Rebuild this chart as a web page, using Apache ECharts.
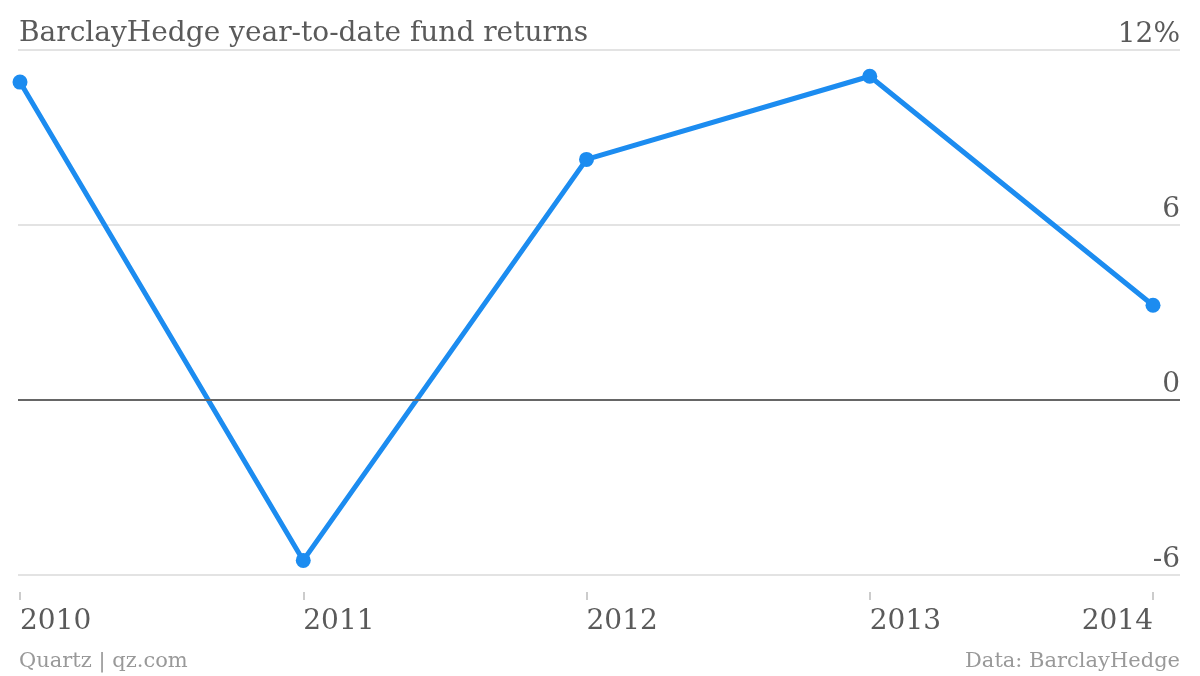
<!DOCTYPE html>
<html><head><meta charset="utf-8">
<script src="https://cdn.jsdelivr.net/npm/echarts@6/dist/echarts.min.js"></script>
<style>html,body{margin:0;padding:0;background:#fff}#c{width:1200px;height:676px}</style>
</head><body><div id="c"></div>
<script>
const categories = ['2010', '2011', '2012', '2013', '2014'];
const returnsPct = [10.9, -5.5, 8.25, 11.1, 3.25];
const yTicks = [-6, 0, 6, 12];
const titleText = 'BarclayHedge year-to-date fund returns';
const sourceLeft = 'Quartz | qz.com';
const sourceRight = 'Data: BarclayHedge';

const FONT = '"DejaVu Serif", serif';
const chart = echarts.init(document.getElementById('c'), null, {renderer: 'canvas'});
chart.setOption({
  animation: false,
  backgroundColor: '#fff',
  title: [
    {text: titleText, left: 19, top: 20, padding: 0, textStyle: {fontFamily: FONT, fontSize: 28, fontWeight: 'normal', color: '#5a5a5a'}},
    {text: sourceLeft, left: 19, top: 651, padding: 0, textStyle: {fontFamily: FONT, fontSize: 21, fontWeight: 'normal', color: '#999'}},
    {text: sourceRight, right: 20, top: 651, padding: 0, textStyle: {fontFamily: FONT, fontSize: 21, fontWeight: 'normal', color: '#999'}}
  ],
  grid: [
    {left: 18, right: 20, top: 50, bottom: 101},
    {left: 20, right: 47, top: 50, bottom: 101}
  ],
  xAxis: [
    {type: 'value', gridIndex: 0, min: 0, max: 1, show: false},
    {type: 'category', gridIndex: 1, boundaryGap: false, offset: 17,
     data: categories.map((c, i) => i === categories.length - 1 ? {value: c, textStyle: {align: 'right'}} : {value: c, textStyle: {align: 'left'}}),
     axisLine: {show: false, onZero: false},
     axisTick: {show: true, length: 8, inside: false, lineStyle: {color: '#ccc', width: 2}},
     axisLabel: {margin: 16, fontFamily: FONT, fontSize: 28, color: '#5a5a5a'},
     splitLine: {show: false}}
  ],
  yAxis: [
    {type: 'value', gridIndex: 0, position: 'right', min: yTicks[0], max: yTicks[yTicks.length - 1], interval: 6,
     axisLine: {show: false}, axisTick: {show: false},
     splitLine: {show: true, lineStyle: {color: '#e3e3e3', width: 2}},
     axisLabel: {inside: true, margin: 0, verticalAlign: 'bottom', padding: [0, 0, 1, 0],
       fontFamily: FONT, fontSize: 28, color: '#5a5a5a',
       formatter: v => v === yTicks[yTicks.length - 1] ? v + '%' : String(v)}},
    {type: 'value', gridIndex: 1, min: yTicks[0], max: yTicks[yTicks.length - 1], show: false}
  ],
  series: [
    {type: 'line', xAxisIndex: 0, yAxisIndex: 0, data: [], silent: true,
     markLine: {symbol: 'none', silent: true, label: {show: false},
       lineStyle: {color: '#666', width: 2, type: 'solid'}, data: [{yAxis: 0}]}},
    {type: 'line', xAxisIndex: 1, yAxisIndex: 1, data: returnsPct,
     lineStyle: {color: '#1c8cf0', width: 5}, itemStyle: {color: '#1c8cf0'},
     symbol: 'circle', symbolSize: 15, showSymbol: true}
  ]
});
</script></body></html>
